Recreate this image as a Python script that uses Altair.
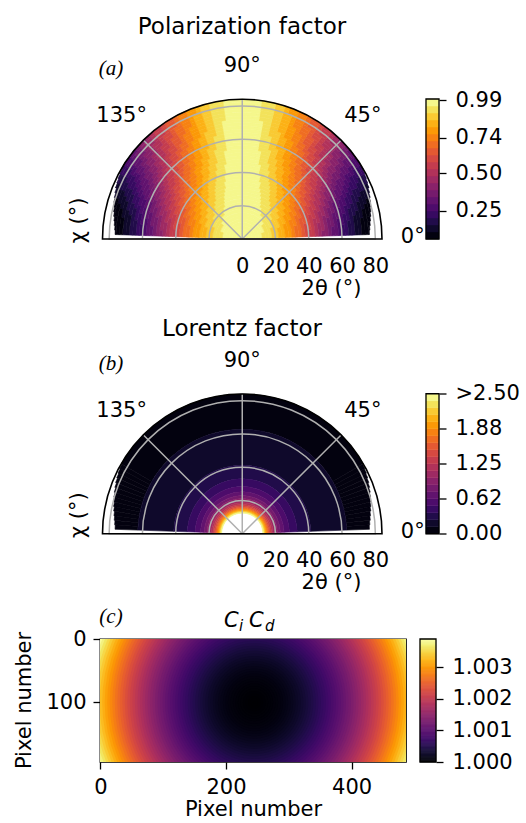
import math
import numpy as np
import pandas as pd
import altair as alt

# ===================== DATA =====================
# polar grid for panels (a) and (b): 2-degree rings in 2theta, 2-degree sectors in chi
tth_ring_edges = [0, 2, 4, 6, 8, 10, 12, 14, 16, 18, 20, 22, 24, 26, 28, 30, 32, 34, 36, 38, 40,
                  42, 44, 46, 48, 50, 52, 54, 56, 58, 60, 62, 64, 66, 68, 70, 72, 74, 76, 78, 80, 82, 84]
chi_sector_edges_q = [2, 4, 6, 8, 10, 12, 14, 16, 18, 20, 22, 24, 26, 28, 30, 32, 34, 36, 38, 40, 42, 44,
                      46, 48, 50, 52, 54, 56, 58, 60, 62, 64, 66, 68, 70, 72, 74, 76, 78, 80, 82, 84, 86, 88, 90]
# outer 2theta edge of the covered data per chi sector (one quadrant, mirrored about 90 deg)
coverage_tth_max_q = [76.5, 76.9, 77.4, 77.9, 78.5, 79.1, 79.7, 80.3, 80.9, 81.5, 82.1, 82.6, 83.1, 83.5,
                      84.0, 84.0, 84.0, 84.0, 84.0, 84.0, 84.0, 84.0, 84.0, 84.0, 84.0, 84.0, 84.0, 84.0,
                      84.0, 84.0, 84.0, 84.0, 84.0, 84.0, 84.0, 84.0, 84.0, 84.0, 84.0, 84.0, 84.0, 84.0,
                      84.0, 84.0]

# (a) polarization factor: depth of the dip along each ring and along each sector
pol_radial_term = [0.0003, 0.0027, 0.0076, 0.0149, 0.0245, 0.0364, 0.0506, 0.0670, 0.0855, 0.1060,
                   0.1284, 0.1527, 0.1786, 0.2061, 0.2350, 0.2653, 0.2966, 0.3290, 0.3622, 0.3960,
                   0.4304, 0.4651, 0.5000, 0.5349, 0.5696, 0.6040, 0.6378, 0.6710, 0.7034, 0.7347,
                   0.7650, 0.7939, 0.8214, 0.8473, 0.8716, 0.8940, 0.9145, 0.9330, 0.9494, 0.9636,
                   0.9755, 0.9851]
pol_azimuthal_term_q = [0.9978, 0.9939, 0.9881, 0.9804, 0.9708, 0.9593, 0.9460, 0.9310, 0.9143, 0.8959,
                        0.8759, 0.8544, 0.8314, 0.8071, 0.7815, 0.7546, 0.7268, 0.6979, 0.6680, 0.6374,
                        0.6062, 0.5743, 0.5421, 0.5095, 0.4767, 0.4438, 0.4109, 0.3782, 0.3459, 0.3140,
                        0.2827, 0.2521, 0.2223, 0.1936, 0.1660, 0.1398, 0.1150, 0.0919, 0.0706, 0.0514,
                        0.0345, 0.0202, 0.0089, 0.0015]
pol_level_min, pol_level_max, pol_n_levels = 0.06, 1.0, 20
pol_cbar_ticks = [0.25, 0.50, 0.74, 0.99]

# (b) Lorentz factor: contour levels and the 2theta radius where each level is reached
lorentz_levels = [0.0, 0.125, 0.25, 0.375, 0.5, 0.625, 0.75, 0.875, 1.0, 1.125, 1.25, 1.375, 1.5,
                  1.625, 1.75, 1.875, 2.0, 2.125, 2.25, 2.375, 2.5]
lorentz_level_tth = [None, 62.8, 41.2, 33.05, 28.34, 25.2, 22.92, 21.16, 19.76, 18.6, 17.63, 16.79,
                     16.06, 15.42, 14.86, 14.35, 13.89, 13.47, 13.08, 12.73, 12.4]
lor_cbar_ticks = [0.0, 0.625, 1.25, 1.875, 2.5]
lor_cbar_labels = ["0.00", "0.62", "1.25", "1.88", ">2.50"]

# (c) Ci*Cd detector correction: radial profile about the beam centre (detector pixels)
cd_center_px = [245, 100]
cd_radius_px = [0, 4, 8, 12, 16, 20, 24, 28, 32, 36, 40, 44, 48, 52, 56, 60, 64, 68, 72, 76, 80, 84,
                88, 92, 96, 100, 104, 108, 112, 116, 120, 124, 128, 132, 136, 140, 144, 148, 152, 156,
                160, 164, 168, 172, 176, 180, 184, 188, 192, 196, 200, 204, 208, 212, 216, 220, 224,
                228, 232, 236, 240, 244, 248, 252, 256, 260, 264, 268, 272]
cd_excess_1e4 = [0.0, 0.009, 0.036, 0.080, 0.142, 0.222, 0.320, 0.435, 0.568, 0.719, 0.888, 1.074,
                 1.279, 1.501, 1.740, 1.998, 2.273, 2.566, 2.877, 3.206, 3.552, 3.916, 4.298, 4.698,
                 5.115, 5.550, 6.003, 6.474, 6.962, 7.468, 7.992, 8.534, 9.093, 9.670, 10.265, 10.878,
                 11.508, 12.157, 12.823, 13.506, 14.208, 14.927, 15.664, 16.419, 17.192, 17.982,
                 18.790, 19.616, 20.460, 21.321, 22.200, 23.097, 24.012, 24.944, 25.894, 26.862,
                 27.848, 28.851, 29.872, 30.911, 31.968, 33.043, 34.135, 35.245, 36.372, 37.518,
                 38.681, 39.862, 41.061]
cd_vmin, cd_vmax = 1.0, 1.0039
cd_cbar_ticks = [1.000, 1.001, 1.002, 1.003]
det_x_extent = [-0.5, 486.5]
det_y_extent = [-0.5, 194.5]

# ===================== LAYOUT / STYLE =====================
FONT = "DejaVu Sans"
POL_W, POL_H = 282, 140
X_DOM = [-85.5, 84.0]
Y_TOP = 84.15
R_MAX = 84.0
PX_PER_DEG = POL_W / (X_DOM[1] - X_DOM[0])
GRID_GRAY = "#b0b0b0"
ROW_GAP = 104.5          # gap between row B and row C plot areas
EXTRA_B = 50.25          # row B carries extra room above its half disc
CB_GAP, CB_W = 44, 13    # polar colorbar placement

theta_scale = alt.Scale(domain=[0, 180], range=[2.5 * math.pi, 1.5 * math.pi])
radius_scale = alt.Scale(type="linear", domain=[0, R_MAX], range=[0, R_MAX * PX_PER_DEG], zero=True, nice=False)


def label_expr(values, labels):
    expr = "''"
    for v, l in zip(values, labels):
        expr = f"abs(datum.value - ({v})) < 1e-9 ? '{l}' : ({expr})"
    return expr


def colorbar_layer(lo, hi, mid, vmin, vmax, ticks, x0, x1, axis_offset, extra_top, height,
                   fmt=None, labels=None):
    df = pd.DataFrame({"lo": lo, "hi": hi, "mid": mid})
    cscale = alt.Scale(scheme="inferno", domain=[vmin, vmax])
    top = vmax + (vmax - vmin) * extra_top / height
    ysc = alt.Scale(domain=[vmin, top], nice=False, zero=False)
    axkw = dict(orient="right", values=ticks, tickSize=7, tickWidth=1.3, tickColor="black",
                labelPadding=9, domain=False, grid=False, title=None, labelFlush=False,
                labelOverlap=False, offset=axis_offset, zindex=1)
    if labels is not None:
        axkw["labelExpr"] = label_expr(ticks, labels)
    else:
        axkw["format"] = fmt
    strips = alt.Chart(df).mark_rect(strokeWidth=0.5).encode(
        x=alt.value(x0), x2=alt.value(x1),
        y=alt.Y("lo:Q", scale=ysc, axis=alt.Axis(**axkw)),
        y2="hi:Q",
        fill=alt.Fill("mid:Q", scale=cscale, legend=None),
        stroke=alt.Stroke("mid:Q", scale=cscale, legend=None),
    )
    box = alt.Chart(pd.DataFrame({"a": [vmin], "b": [vmax]})).mark_rect(
        fillOpacity=0, stroke="black", strokeWidth=1.3).encode(
        x=alt.value(x0), x2=alt.value(x1), y=alt.Y("a:Q", scale=ysc), y2="b:Q")
    return alt.layer(strips, box)


# sectors over the full half circle (ascending chi), with their quadrant index
sectors = []
for j in range(len(chi_sector_edges_q) - 1):
    sectors.append((chi_sector_edges_q[j], chi_sector_edges_q[j + 1], j))
for j in reversed(range(len(chi_sector_edges_q) - 1)):
    sectors.append((180 - chi_sector_edges_q[j + 1], 180 - chi_sector_edges_q[j], j))


def merge_runs(rows):
    out = []
    for r in rows:
        if out and out[-1]["mid"] == r["mid"] and out[-1]["r0"] == r["r0"] and out[-1]["r1"] == r["r1"] \
                and abs(out[-1]["c1"] - r["c0"]) < 1e-9:
            out[-1]["c1"] = r["c1"]
        else:
            out.append(dict(r))
    return out


# ---- (a) polarization cells ----
pol_step = (pol_level_max - pol_level_min) / pol_n_levels
pol_rows = []
for i in range(len(tth_ring_edges) - 1):
    r0, r1 = tth_ring_edges[i], tth_ring_edges[i + 1]
    ring = []
    for (c0, c1, j) in sectors:
        lim = coverage_tth_max_q[j]
        if r0 >= lim:
            continue
        val = 1 - pol_radial_term[i] * pol_azimuthal_term_q[j]
        band = int((val - pol_level_min) / pol_step)
        band = max(0, min(pol_n_levels - 1, band))
        mid = pol_level_min + (band + 0.5) * pol_step
        ring.append(dict(r0=r0, r1=min(r1, lim), c0=c0, c1=c1, mid=round(mid, 6)))
    pol_rows += merge_runs(ring)
pol_df = pd.DataFrame(pol_rows)

# ---- (b) Lorentz bands ----
lor_rows = []
for k in range(len(lorentz_levels) - 1):
    mid = (lorentz_levels[k] + lorentz_levels[k + 1]) / 2
    inner = lorentz_level_tth[k + 1]
    outer = lorentz_level_tth[k]
    band_rows = []
    for (c0, c1, j) in sectors:
        lim = coverage_tth_max_q[j]
        r_out = lim if outer is None else min(outer, lim)
        band_rows.append(dict(r0=inner, r1=r_out, c0=c0, c1=c1, mid=mid))
    lor_rows += merge_runs(band_rows)
lor_df = pd.DataFrame(lor_rows)

grid_df = pd.DataFrame({"r": [20, 40, 60, 80], "c0": [0, 0, 0, 0], "c1": [180, 180, 180, 180]})
spoke_df = pd.DataFrame({"chi": [45, 90, 135], "r": [R_MAX, R_MAX, R_MAX]})
frame_df = pd.DataFrame({"r": [R_MAX], "c0": [0], "c1": [180]})
angle_lab_df = pd.DataFrame({"chi": [0, 45, 90, 135], "r": [102.5] * 4,
                             "label": ["0°", "45°", "90°", "135°"]})


def polar_row(cells_df, vmin, vmax, tag, title, title_y, extra_top,
              cb_lo, cb_hi, cb_mid, cb_ticks, cb_fmt=None, cb_labels=None):
    height = POL_H + extra_top
    ysc = alt.Scale(domain=[0, Y_TOP + extra_top / PX_PER_DEG], nice=False, zero=False)
    yax = alt.Axis(labels=False, ticks=False, domain=False, grid=False,
                   title="χ (°)", titleX=-22, titleY=121 + extra_top, titleBaseline="middle")
    xsc = alt.Scale(domain=X_DOM, nice=False, zero=False)
    xax = alt.Axis(values=[0, 20, 40, 60, 80], format="d", ticks=False, domain=False, grid=False,
                   labelPadding=16, labelFlush=False, labelOverlap=False,
                   title="2θ (°)", titleX=231, titleY=49, titleBaseline="middle")
    X0 = alt.XDatum(0, type="quantitative", scale=xsc, axis=xax)
    Y0 = alt.YDatum(0, type="quantitative", scale=ysc, axis=yax)
    cscale = alt.Scale(scheme="inferno", domain=[vmin, vmax])

    cells = alt.Chart(cells_df).mark_arc(strokeWidth=0.6).encode(
        x=X0, y=Y0,
        theta=alt.Theta("c0:Q", scale=theta_scale, stack=False), theta2="c1:Q",
        radius=alt.Radius("r1:Q", scale=radius_scale, stack=False), radius2="r0:Q",
        fill=alt.Fill("mid:Q", scale=cscale, legend=None),
        stroke=alt.Stroke("mid:Q", scale=cscale, legend=None),
    )
    rings = alt.Chart(grid_df).mark_arc(fillOpacity=0, stroke=GRID_GRAY, strokeWidth=1.5).encode(
        x=X0, y=Y0,
        theta=alt.Theta("c0:Q", scale=theta_scale, stack=False), theta2="c1:Q",
        radius=alt.Radius("r:Q", scale=radius_scale, stack=False),
    )
    spokes = alt.Chart(spoke_df).mark_arc(fillOpacity=0, stroke=GRID_GRAY, strokeWidth=1.5).encode(
        x=X0, y=Y0,
        theta=alt.Theta("chi:Q", scale=theta_scale, stack=False), theta2="chi:Q",
        radius=alt.Radius("r:Q", scale=radius_scale, stack=False),
    )
    frame = alt.Chart(frame_df).mark_arc(fillOpacity=0, stroke="black", strokeWidth=1.6).encode(
        x=X0, y=Y0,
        theta=alt.Theta("c0:Q", scale=theta_scale, stack=False), theta2="c1:Q",
        radius=alt.Radius("r:Q", scale=radius_scale, stack=False),
    )
    alabels = alt.Chart(angle_lab_df).mark_text(font=FONT, fontSize=21, align="center",
                                                baseline="middle", dy=-2, color="black").encode(
        x=X0, y=Y0,
        theta=alt.Theta("chi:Q", scale=theta_scale, stack=False),
        radius=alt.Radius("r:Q", scale=radius_scale, stack=False),
        text="label:N",
    )
    tag_t = alt.Chart(pd.DataFrame({"t": [tag]})).mark_text(
        font="Liberation Serif", fontStyle="italic", fontSize=21, align="center",
        baseline="alphabetic", color="black").encode(text="t:N", x=alt.value(11), y=alt.value(-24 + extra_top))
    title_t = alt.Chart(pd.DataFrame({"t": [title]})).mark_text(
        font=FONT, fontSize=23, align="center", baseline="alphabetic", color="black").encode(
        text="t:N", x=alt.value(142), y=alt.value(title_y + extra_top))
    polar = alt.layer(cells, rings, spokes, frame, alabels, tag_t, title_t)
    cbar = colorbar_layer(cb_lo, cb_hi, cb_mid, vmin, vmax, cb_ticks, POL_W + CB_GAP,
                          POL_W + CB_GAP + CB_W, CB_GAP + CB_W, extra_top, POL_H,
                          fmt=cb_fmt, labels=cb_labels)
    return alt.layer(polar, cbar).resolve_scale(y="independent").properties(
        width=POL_W, height=height, view=alt.ViewBackground(strokeWidth=0))


# ---- panel (a) ----
pa_lo = [pol_level_min + k * pol_step for k in range(pol_n_levels)]
row_a = polar_row(pol_df, pol_level_min, pol_level_max, "(a)", "Polarization factor", -65.5, 0,
                  pa_lo, [v + pol_step for v in pa_lo], [v + pol_step / 2 for v in pa_lo],
                  pol_cbar_ticks, cb_fmt=".2f")

# ---- panel (b) ----
row_b = polar_row(lor_df, lorentz_levels[0], lorentz_levels[-1], "(b)", "Lorentz factor", -58, EXTRA_B,
                  lorentz_levels[:-1], lorentz_levels[1:],
                  [(a + b) / 2 for a, b in zip(lorentz_levels[:-1], lorentz_levels[1:])],
                  lor_cbar_ticks, cb_labels=lor_cbar_labels)

# ---- panel (c) ----
HEAT_W, HEAT_H = 306, 123
HX = HEAT_W / (det_x_extent[1] - det_x_extent[0])
half_step = (cd_radius_px[1] - cd_radius_px[0]) / 2
disc_df = pd.DataFrame({"rad": [r + half_step for r in cd_radius_px],
                        "val": [1 + e * 1e-4 for e in cd_excess_1e4]}).iloc[::-1]
cd_scale = alt.Scale(scheme="inferno", domain=[cd_vmin, cd_vmax])
hx_axis = alt.Axis(values=[0, 200, 400], tickSize=7, tickWidth=1.3, tickColor="black", labelPadding=7,
                   domain=False, grid=False, labelFlush=False, title="Pixel number",
                   titleY=47, titleBaseline="middle")
hy_axis = alt.Axis(values=[0, 100], tickSize=7, tickWidth=1.3, tickColor="black", labelPadding=7,
                   domain=False, grid=False, labelFlush=False, title="Pixel number",
                   titleX=-76, titleY=61, titleBaseline="middle")
hx = alt.XDatum(cd_center_px[0], type="quantitative",
                scale=alt.Scale(domain=det_x_extent, nice=False, zero=False), axis=hx_axis)
hy = alt.YDatum(cd_center_px[1], type="quantitative",
                scale=alt.Scale(domain=det_y_extent, nice=False, zero=False, reverse=True), axis=hy_axis)
discs = alt.Chart(disc_df).mark_arc(clip=True, strokeWidth=0).encode(
    x=hx, y=hy,
    theta=alt.value(0), theta2=alt.value(2 * math.pi),
    radius=alt.Radius("rad:Q", scale=alt.Scale(type="linear", domain=[0, 300], range=[0, 300 * HX],
                                               zero=True, nice=False), stack=False),
    fill=alt.Fill("val:Q", scale=cd_scale, legend=None),
)
title_parts = pd.DataFrame({"t": ["C", "i", "C", "d"], "px": [124, 139, 149, 165],
                            "py": [-12, -8, -12, -8], "fs": [21, 15, 21, 15]})
c_title = alt.Chart(title_parts).mark_text(font=FONT, fontStyle="italic", align="left",
                                            baseline="alphabetic", color="black").encode(
    text="t:N", x=alt.X("px:Q", scale=None), y=alt.Y("py:Q", scale=None),
    size=alt.Size("fs:Q", scale=None))
c_tag = alt.Chart(pd.DataFrame({"t": ["(c)"]})).mark_text(
    font="Liberation Serif", fontStyle="italic", fontSize=21, align="center",
    baseline="alphabetic", color="black").encode(text="t:N", x=alt.value(11), y=alt.value(-16.5))
heat = alt.layer(discs, c_title, c_tag)

n_strip = 140
strip_lo = list(np.linspace(cd_vmin, cd_vmax, n_strip + 1)[:-1])
strip_w = (cd_vmax - cd_vmin) / n_strip
cbar_c = colorbar_layer(strip_lo, [v + strip_w for v in strip_lo], [v + strip_w / 2 for v in strip_lo],
                        cd_vmin, cd_vmax, cd_cbar_ticks, HEAT_W + 14, HEAT_W + 30, 30, 0, HEAT_H,
                        fmt=".3f")
row_c = alt.layer(heat, cbar_c).resolve_scale(y="independent").properties(
    width=HEAT_W, height=HEAT_H, view=alt.ViewBackground(stroke="black", strokeWidth=1.3))

chart = alt.vconcat(row_a, row_b, row_c, spacing=ROW_GAP, bounds="flush").resolve_scale(
    fill="independent", stroke="independent"
).properties(
    padding={"left": 12, "top": 15, "right": 5, "bottom": 5}, background="white"
).configure_view(strokeWidth=0).configure_axis(
    labelFont=FONT, titleFont=FONT, labelFontSize=21, titleFontSize=21, labelColor="black",
    titleColor="black", titleFontWeight="normal", tickColor="black"
)

chart.save("out.html", embed_options={"renderer": "svg", "actions": False})
